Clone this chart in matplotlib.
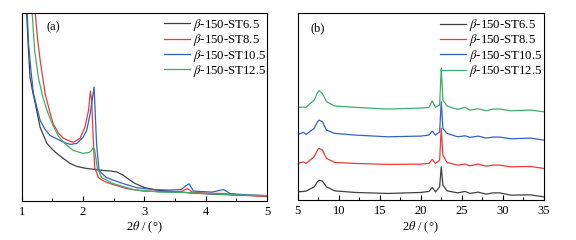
#!/usr/bin/env python3

"""
Small-angle (a) and wide-angle (b) XRD patterns of the beta-150-ST samples
"""

import matplotlib
matplotlib.use("Agg")
import matplotlib.pyplot as plt
from matplotlib.ticker import MultipleLocator

plt.rcParams["font.family"] = ["Liberation Serif", "DejaVu Serif"]
plt.rcParams["mathtext.fontset"] = "stix"

labels = ["$\\beta$-150-ST6.5", "$\\beta$-150-ST8.5",
          "$\\beta$-150-ST10.5", "$\\beta$-150-ST12.5"]
colors = ["#404040", "#eb3a3a", "#2f62c9", "#3fae6a"]

# (a) small angle, intensity in arbitrary units
a_x_65 = [1.06, 1.08, 1.11, 1.135, 1.18, 1.22, 1.3, 1.41, 1.5, 1.57, 1.7, 1.79, 1.9,
          2.06, 2.2, 2.33, 2.45, 2.55, 2.65, 2.75, 2.85, 3.0, 3.2, 3.5, 3.8, 4.1, 4.5, 5.0]
a_y_65 = [230, 187, 150, 123, 108, 97, 73, 57, 51, 47, 41, 37, 34,
          32, 31, 30, 29.5, 28.5, 25.5, 21, 17, 13, 10.5, 9, 7.5, 6.5, 5.5, 4.5]

a_x_85 = [1.2, 1.22, 1.26, 1.3, 1.38, 1.45, 1.51, 1.6, 1.68, 1.84, 1.95, 2.03, 2.09, 2.12,
          2.14, 2.165, 2.19, 2.25, 2.35, 2.44, 2.6, 2.71, 2.98, 3.3, 3.6, 3.7, 3.78, 4.0,
          4.3, 4.6, 5.0]
a_y_85 = [220, 187, 160, 140, 107, 90, 77, 67, 62, 58, 62, 73, 90, 109,
          100, 63, 33, 23, 19, 17, 14, 12, 9.5, 9, 9, 12, 8.5, 7.5,
          7, 5.5, 4]

a_x_105 = [1.07, 1.09, 1.11, 1.15, 1.19, 1.25, 1.30, 1.38, 1.46, 1.62, 1.73, 1.8, 1.9,
           2.0, 2.06, 2.12, 2.16, 2.18, 2.2, 2.22, 2.26, 2.38, 2.6, 2.87, 3.14, 3.4, 3.6,
           3.68, 3.73, 3.8, 3.95, 4.1, 4.29, 4.4, 4.6, 5.0]
a_y_105 = [230, 187, 157, 130, 107, 92, 80, 71, 65, 60, 57, 56, 57,
           63, 70, 88, 105, 113, 85, 57, 30, 23, 18, 13, 11, 10.5, 11,
           15, 16.7, 9.5, 9, 8.5, 11, 7, 6, 5]

a_x_125 = [1.15, 1.17, 1.21, 1.27, 1.34, 1.41, 1.5, 1.6, 1.7, 1.84, 2.0, 2.1, 2.14,
           2.17, 2.19, 2.21, 2.23, 2.30, 2.49, 2.82, 3.25, 3.7, 4.2, 4.6, 5.0]
a_y_125 = [220, 187, 150, 123, 104, 90, 76, 64, 57, 50, 47, 48, 50,
           53, 50, 42, 33, 23, 17, 11, 8.5, 8, 6.5, 5.5, 5]

# (b) wide angle, stacked patterns, same 2theta readings for all four
b_x = [5, 5.7, 6, 7, 7.4, 7.6, 8.0, 8.5, 9.5, 12, 16, 20, 21, 21.4, 21.8, 22.3, 22.5,
       22.7, 23.2, 24.5, 25.4, 26, 27, 28, 28.8, 29.6, 31, 33.4, 35]
b_y_65 = [8.3, 8.7, 9, 13.3, 18.3, 20, 19, 13.3, 9.3, 7.7, 6.7, 7.7, 8.7, 12.7, 8.3, 13.3, 33.3,
          15, 9.3, 7.3, 8.7, 6.7, 8, 6, 7.3, 7.3, 5, 5.3, 3.3]
b_y_85 = [36.7, 38.3, 36.7, 43.3, 50, 51.7, 50, 41.7, 37.7, 36.7, 35.7, 36, 36.7, 40.7, 36.7,
          40, 71.7, 45, 37.7, 35, 36, 34.3, 36, 34, 35, 35, 33.3, 33.7, 31.7]
b_y_105 = [65.7, 67.7, 65.7, 71.7, 78.3, 80, 78.3, 70, 66.7, 65, 63.3, 64, 65, 69, 65,
           68.3, 98.3, 71.7, 66.7, 63.3, 64.3, 62.7, 64, 62, 63, 63, 61.3, 62, 60]
b_y_125 = [92.7, 93, 92.7, 100, 107.3, 109.3, 106.7, 98.3, 94, 92.7, 91, 92, 92.7, 99, 92.7,
           95, 132, 100, 94, 90.7, 92.7, 90, 91.3, 89.3, 91, 91, 89.3, 90, 88.3]


def style_axis(ax, xlim, major, minor, tag, tag_x):
  ax.set_xlim(*xlim)
  ax.set_ylim(0, 187)
  ax.set_yticks([])
  ax.xaxis.set_major_locator(MultipleLocator(major))
  ax.xaxis.set_minor_locator(MultipleLocator(minor))
  ax.tick_params(axis="x", which="major", direction="in", length=3.5, width=0.8,
                 labelsize=9, pad=3.5)
  ax.tick_params(axis="x", which="minor", direction="in", length=2, width=0.7)
  for s in ax.spines.values():
    s.set_linewidth(0.8)
  ax.set_xlabel("2$\\theta$ / (°)", fontsize=9, labelpad=1.5)
  ax.text(tag_x, 0.92, tag, transform=ax.transAxes, fontsize=9, va="center")
  ax.legend(loc="upper left", bbox_to_anchor=(0.58, 0.978), frameon=False,
            fontsize=9.2, handlelength=2.0, handletextpad=0.26, labelspacing=-0.05,
            borderpad=0, borderaxespad=0)


if __name__ == "__main__":

  fig = plt.figure(figsize=(5.76, 2.4), dpi=100)

  ax1 = fig.add_axes([0.0377, 0.164, 0.426, 0.783])
  a_data = [(a_x_65, a_y_65), (a_x_85, a_y_85), (a_x_105, a_y_105), (a_x_125, a_y_125)]
  for (xs, ys), c, lab in zip(a_data, colors, labels):
    ax1.plot(xs, ys, color=c, lw=0.9, label=lab)
  style_axis(ax1, (1, 5), 1, 0.5, "(a)", 0.1)

  ax2 = fig.add_axes([0.517, 0.166, 0.427, 0.78])
  for ys, c, lab in zip([b_y_65, b_y_85, b_y_105, b_y_125], colors, labels):
    ax2.plot(b_x, ys, color=c, lw=0.9, label=lab)
  style_axis(ax2, (5, 35), 5, 2.5, "(b)", 0.05)

  fig.savefig("out.png", dpi=100)
